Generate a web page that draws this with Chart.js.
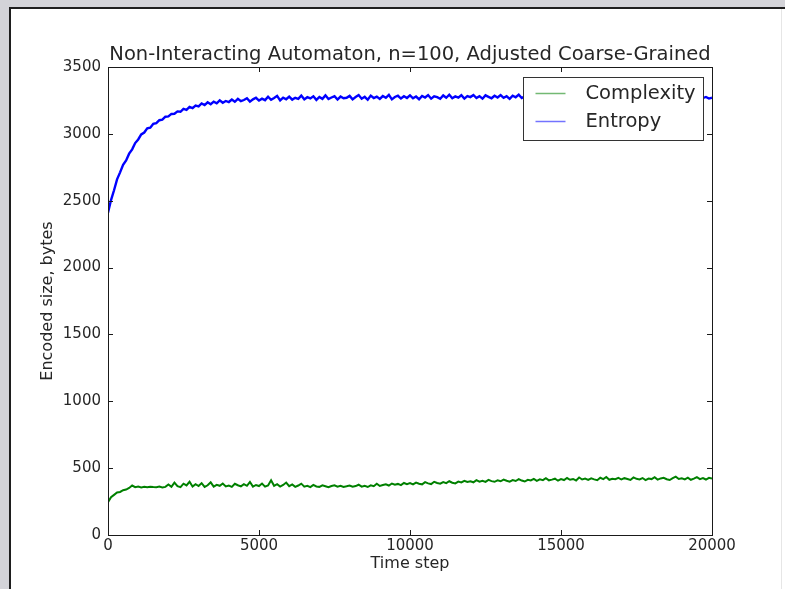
<!DOCTYPE html>
<html>
<head>
<meta charset="utf-8">
<script src="https://cdn.jsdelivr.net/npm/chart.js@4/dist/chart.umd.min.js"></script>
<style>
  html, body { margin: 0; padding: 0; background: #fff; }
  canvas { display: block; }
</style>
</head>
<body>
<canvas id="chart" width="785" height="589"></canvas>
<script>
const chartTitle = 'Non-Interacting Automaton, n=100, Adjusted Coarse-Grained';
const xTitle = 'Time step';
const yTitle = 'Encoded size, bytes';
const seriesNames = ['Complexity', 'Entropy'];
const seriesColors = ['#008000', '#0000ff'];
const sampleEvery = 100;

const complexity = [
  245, 282, 300, 318, 322, 335, 340, 352, 370, 358,
  362, 356, 360, 357, 361, 359, 358, 362, 356, 360,
  378, 360, 392, 365, 358, 384, 371, 398, 362, 380,
  366, 388, 360, 372, 394, 362, 375, 368, 385, 363,
  370, 360, 383, 372, 364, 380, 368, 396, 362, 374,
  366, 385, 362, 371, 410, 368, 380, 362, 374, 392,
  365, 378, 360, 370, 384, 362, 368, 358, 375, 363,
  360, 371, 364, 357, 366, 372, 361, 368, 359, 364,
  370, 361, 366, 376, 362, 368, 359, 372, 365, 384,
  367, 374, 379, 370, 385, 376, 382, 373, 389, 380,
  388, 378, 392, 383, 379, 395, 386, 381, 398, 389,
  384, 396, 388, 402, 391, 386, 399, 393, 405, 396,
  401, 394, 410, 399, 405, 397, 412, 403, 398, 409,
  402, 415, 406, 399, 411, 404, 418, 407, 400, 413,
  408, 420, 405, 416, 410, 425, 409, 414, 421, 406,
  418, 411, 426, 413, 419, 408, 430, 415, 422, 412,
  424, 416, 410, 428, 418, 434, 413, 421, 417, 427,
  415, 425, 419, 412, 431, 420, 416, 426, 410, 422,
  418, 432, 414, 423, 428, 417, 411, 425, 436, 419,
  424, 416, 429, 413, 421, 433, 418, 426, 415, 428,
  422
];

const entropy = [
  2410, 2505, 2578, 2660, 2712, 2768, 2801, 2852, 2884, 2931,
  2958, 2996, 3010, 3041, 3046, 3075, 3080, 3102, 3106, 3128,
  3131, 3149, 3150, 3168, 3165, 3187, 3180, 3201, 3193, 3212,
  3206, 3228, 3215, 3236, 3222, 3241, 3229, 3251, 3233, 3246,
  3238, 3257, 3240, 3262, 3244, 3253, 3266, 3241, 3258, 3270,
  3249, 3263, 3252, 3278, 3255, 3268, 3284, 3250, 3271, 3259,
  3279, 3256, 3270, 3262, 3286, 3258, 3274, 3265, 3281, 3254,
  3276, 3262, 3288, 3260, 3272, 3281, 3257, 3279, 3266, 3270,
  3284, 3258, 3275, 3290, 3263, 3277, 3255, 3286, 3268, 3279,
  3261, 3283, 3270, 3292, 3258, 3276, 3285, 3264, 3281, 3268,
  3288, 3266, 3279, 3259, 3284, 3272, 3290, 3263, 3281, 3274,
  3262, 3287, 3270, 3293, 3266, 3280, 3271, 3289, 3264, 3283,
  3275, 3291, 3268, 3282, 3263, 3288, 3277, 3266, 3285, 3272,
  3290, 3269, 3281, 3262, 3286, 3274, 3293, 3268, 3280, 3271,
  3284, 3265, 3289, 3273, 3260, 3282, 3276, 3291, 3267, 3279,
  3270, 3286, 3263, 3281, 3274, 3292, 3268, 3279, 3285, 3266,
  3283, 3271, 3288, 3262, 3278, 3285, 3267, 3280, 3273, 3289,
  3264, 3281, 3270, 3286, 3261, 3277, 3284, 3266, 3279, 3272,
  3287, 3263, 3276, 3282, 3268, 3285, 3271, 3260, 3280, 3274,
  3266, 3283, 3270, 3278, 3262, 3281, 3273, 3268, 3276, 3264,
  3270
];

const toPoints = vals => vals.map((v, i) => ({ x: i * sampleEvery, y: v }));

const FONT = "'DejaVu Sans', 'Bitstream Vera Sans', sans-serif";
const TEXT = '#262626';

// grey page edge around the figure, like the screenshot
const framePlugin = {
  id: 'frame',
  beforeDraw(chart) {
    const { ctx, width, height } = chart;
    ctx.save();
    ctx.fillStyle = '#fff';
    ctx.fillRect(0, 0, width, height);
    ctx.fillStyle = '#d3d3d8';
    ctx.fillRect(0, 0, width, 7);
    ctx.fillRect(0, 0, 9, height);
    ctx.fillStyle = '#1e1e1e';
    ctx.fillRect(9, 7, 2, height - 7);
    ctx.fillRect(9, 7, width - 9, 2);
    ctx.fillStyle = '#e6e6e6';
    ctx.fillRect(781, 9, 1, height - 9);
    ctx.restore();
  }
};

// matplotlib style box with inward ticks on all four sides, title over the axes
const axesBoxPlugin = {
  id: 'axesBox',
  afterDatasetsDraw(chart) {
    const { ctx, chartArea: a, scales } = chart;
    ctx.save();
    ctx.strokeStyle = '#1a1a1a';
    ctx.lineWidth = 1;
    ctx.strokeRect(Math.round(a.left) + 0.5, Math.round(a.top) + 0.5,
      Math.round(a.right - a.left), Math.round(a.bottom - a.top));
    const len = 5;
    ctx.beginPath();
    scales.x.ticks.forEach(t => {
      const px = Math.round(scales.x.getPixelForValue(t.value)) + 0.5;
      ctx.moveTo(px, a.bottom); ctx.lineTo(px, a.bottom - len);
      ctx.moveTo(px, a.top); ctx.lineTo(px, a.top + len);
    });
    scales.y.ticks.forEach(t => {
      const py = Math.round(scales.y.getPixelForValue(t.value)) + 0.5;
      ctx.moveTo(a.left, py); ctx.lineTo(a.left + len, py);
      ctx.moveTo(a.right, py); ctx.lineTo(a.right - len, py);
    });
    ctx.stroke();

    ctx.fillStyle = TEXT;
    ctx.font = `19.5px ${FONT}`;
    ctx.textAlign = 'center';
    ctx.textBaseline = 'alphabetic';
    ctx.fillText(chartTitle, (a.left + a.right) / 2, a.top - 7);
    ctx.restore();
  }
};

// legend box inside the upper right corner
const innerLegendPlugin = {
  id: 'innerLegend',
  afterDraw(chart) {
    const { ctx, chartArea: a } = chart;
    const w = 180, h = 63;
    const x0 = Math.round(a.right - 9 - w) + 0.5, y0 = Math.round(a.top + 10) + 0.5;
    ctx.save();
    ctx.fillStyle = '#fff';
    ctx.strokeStyle = '#333';
    ctx.lineWidth = 1;
    ctx.fillRect(x0, y0, w, h);
    ctx.strokeRect(x0, y0, w, h);
    ctx.font = `19.5px ${FONT}`;
    ctx.textBaseline = 'middle';
    chart.data.datasets.forEach((ds, i) => {
      const cy = y0 + 16 + i * 28;
      ctx.strokeStyle = ds.borderColor;
      ctx.globalAlpha = 0.55;
      ctx.lineWidth = 1.5;
      ctx.beginPath();
      ctx.moveTo(x0 + 12, cy); ctx.lineTo(x0 + 42, cy);
      ctx.stroke();
      ctx.globalAlpha = 1;
      ctx.fillStyle = TEXT;
      ctx.fillText(ds.label, x0 + 62, cy);
    });
    ctx.restore();
  }
};

new Chart(document.getElementById('chart'), {
  type: 'line',
  data: {
    datasets: [
      { label: seriesNames[0], data: toPoints(complexity), borderColor: seriesColors[0], borderWidth: 2 },
      { label: seriesNames[1], data: toPoints(entropy), borderColor: seriesColors[1], borderWidth: 2.4 }
    ]
  },
  options: {
    responsive: false,
    animation: false,
    elements: { point: { radius: 0 }, line: { tension: 0 } },
    layout: { padding: { left: 30, right: 73, top: 67, bottom: 8 } },
    plugins: {
      legend: { display: false },
      tooltip: { enabled: false },
      title: { display: false }
    },
    scales: {
      x: {
        type: 'linear',
        min: 0,
        max: 20000,
        grid: { display: false, drawTicks: false },
        border: { display: false },
        ticks: { stepSize: 5000, color: TEXT, padding: 2, maxRotation: 0,
                 font: { family: FONT, size: 15 }, callback: v => String(v) },
        title: { display: true, text: xTitle, color: TEXT,
                 font: { family: FONT, size: 16 }, padding: { top: 0, bottom: 8 } },
        afterFit(scale) { scale.height = 46; }
      },
      y: {
        min: 0,
        max: 3500,
        grid: { display: false, drawTicks: false },
        border: { display: false },
        ticks: { stepSize: 500, color: TEXT, padding: 7,
                 font: { family: FONT, size: 15 }, callback: v => String(v) },
        title: { display: true, text: yTitle, color: TEXT,
                 font: { family: FONT, size: 16 }, padding: { top: 8, bottom: 0 } },
        afterFit(scale) { scale.width = 78; }
      }
    }
  },
  plugins: [framePlugin, axesBoxPlugin, innerLegendPlugin]
});
</script>
</body>
</html>
